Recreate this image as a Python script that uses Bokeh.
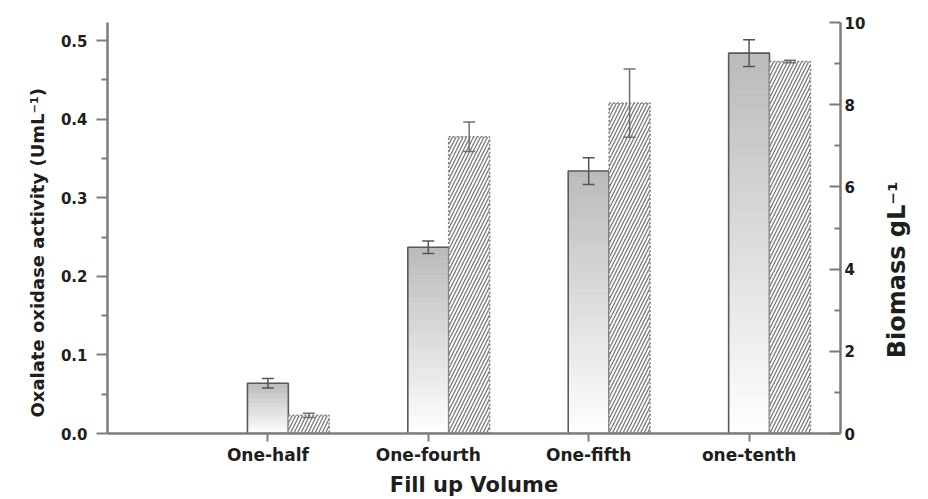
import math
from bokeh.plotting import figure
from bokeh.models import (ColumnDataSource, Range1d, LinearAxis, FixedTicker,
                          Whisker, TeeHead, NumeralTickFormatter, Title)
from bokeh.embed import file_html
from bokeh.resources import INLINE

# ---- data ----
categories = ["One-half", "One-fourth", "One-fifth", "one-tenth"]
oxidase = [0.064, 0.237, 0.334, 0.484]          # U mL-1 (left axis)
oxidase_err = [0.006, 0.008, 0.017, 0.017]
biomass = [0.44, 7.22, 8.04, 9.05]              # g L-1 (right axis)
biomass_err = [0.05, 0.36, 0.83, 0.03]
left_ticks = [0.0, 0.1, 0.2, 0.3, 0.4, 0.5]
right_ticks = [0, 2, 4, 6, 8, 10]
x_title = "Fill up Volume"
left_title = "Oxalate oxidase activity (UmL\u207b\u00b9)"
right_title = "Biomass gL\u207b\u00b9"

FONT = "DejaVu Sans"
AX = "#7d7d7d"
TXT = "#1e1e1e"

XMAX = 4.57
bw = 0.255
pos = [i + 1 for i in range(len(categories))]
pos_b = [p_ + bw for p_ in pos]

p = figure(width=928, height=499, output_backend="svg", toolbar_location=None,
           x_range=Range1d(0, XMAX), y_range=Range1d(0, 0.523),
           min_border_left=107, min_border_right=82, min_border_top=22,
           min_border_bottom=65, x_axis_location=None, y_axis_location=None)
p.outline_line_color = None
p.xgrid.visible = False
p.ygrid.visible = False
p.extra_y_ranges = {"bio": Range1d(0, 10)}

# ---- gradient-filled activity bars ----
N = 40
gx, gb, gt, gc = [], [], [], []
for xi, v in zip(pos, oxidase):
    for k in range(N):
        gx.append(xi)
        gb.append(v * k / N)
        gt.append(v * (k + 1) / N)
        f = (k + 0.5) / N
        g = int(round(255 - (255 - 186) * f))
        gc.append("#%02x%02x%02x" % (g, g, g))
gsrc = ColumnDataSource(dict(x=gx, bottom=gb, top=gt, c=gc))
p.vbar(x="x", bottom="bottom", top="top", width=bw, fill_color="c",
       line_color="c", line_width=0.6, source=gsrc)
p.vbar(x=pos, top=oxidase, width=bw, fill_color=None,
       line_color="#5a5a5a", line_width=1.6)

# ---- hatched biomass bars ----
p.vbar(x=pos_b, top=biomass, width=bw, y_range_name="bio",
       fill_color="white", line_color="#858585", line_dash="2 2",
       line_width=1.6, hatch_pattern="/", hatch_color="#7a7a7a",
       hatch_scale=7, hatch_weight=1.3)

# ---- error bars ----
osrc = ColumnDataSource(dict(x=pos,
                             lo=[v - e for v, e in zip(oxidase, oxidase_err)],
                             hi=[v + e for v, e in zip(oxidase, oxidase_err)]))
bsrc = ColumnDataSource(dict(x=pos_b,
                             lo=[v - e for v, e in zip(biomass, biomass_err)],
                             hi=[v + e for v, e in zip(biomass, biomass_err)]))
for src, rn, col in ((osrc, "default", "#555555"), (bsrc, "bio", "#707070")):
    w = Whisker(source=src, base="x", lower="lo", upper="hi", level="overlay",
                y_range_name=rn, line_color=col, line_width=1.5,
                upper_head=TeeHead(size=12, line_color=col, line_width=1.5),
                lower_head=TeeHead(size=12, line_color=col, line_width=1.5))
    p.add_layout(w)


def style(ax):
    ax.axis_line_color = AX
    ax.axis_line_width = 2.5
    ax.major_tick_line_color = AX
    ax.major_tick_line_width = 2
    ax.minor_tick_line_color = AX
    ax.minor_tick_line_width = 2
    ax.major_label_text_font = FONT
    ax.major_label_text_font_style = "bold"
    ax.major_label_text_color = TXT
    ax.axis_label_text_font = FONT
    ax.axis_label_text_font_style = "bold"
    ax.axis_label_text_color = TXT


# ---- left axis ----
yl = LinearAxis(ticker=FixedTicker(ticks=left_ticks,
                                   minor_ticks=[0.05, 0.15, 0.25, 0.35, 0.45]),
                formatter=NumeralTickFormatter(format="0.0"))
style(yl)
yl.major_tick_out = 11
yl.major_tick_in = 0
yl.minor_tick_out = 6
yl.minor_tick_in = 0
yl.major_label_standoff = 9
yl.major_label_text_font_size = "15px"
p.add_layout(yl, "left")
p.add_layout(Title(text=left_title, align="left", offset=16, standoff=20,
                   text_font=FONT, text_font_style="bold",
                   text_font_size="18px", text_color=TXT), "left")

# ---- right axis ----
yr = LinearAxis(y_range_name="bio",
                ticker=FixedTicker(ticks=right_ticks, minor_ticks=[1, 3, 5, 7, 9]))
style(yr)
yr.major_tick_in = 11
yr.major_tick_out = 0
yr.minor_tick_in = 6
yr.minor_tick_out = 0
yr.major_label_standoff = 4
yr.major_label_text_font_size = "15px"
yr.axis_label_text_font_size = "24px"
yr.axis_label_standoff = 29
yr.axis_label_orientation = math.pi / 2
if "axis_label_align" in yr.properties():
    yr.axis_label_align = "start"
    yr.axis_label = "\u00a0" * 9 + right_title
else:
    yr.axis_label = right_title
p.add_layout(yr, "right")

# ---- bottom axis ----
xb = LinearAxis(ticker=FixedTicker(ticks=pos, minor_ticks=[]),
                major_label_overrides={k: c for k, c in zip(pos, categories)},
                axis_label=x_title)
style(xb)
xb.major_tick_out = 8
xb.major_tick_in = 0
xb.major_label_standoff = 3
xb.major_label_text_font_size = "17px"
xb.axis_label_text_font_size = "21px"
xb.axis_label_standoff = 5
p.add_layout(xb, "below")

open("out.html", "w").write(file_html(p, INLINE))
